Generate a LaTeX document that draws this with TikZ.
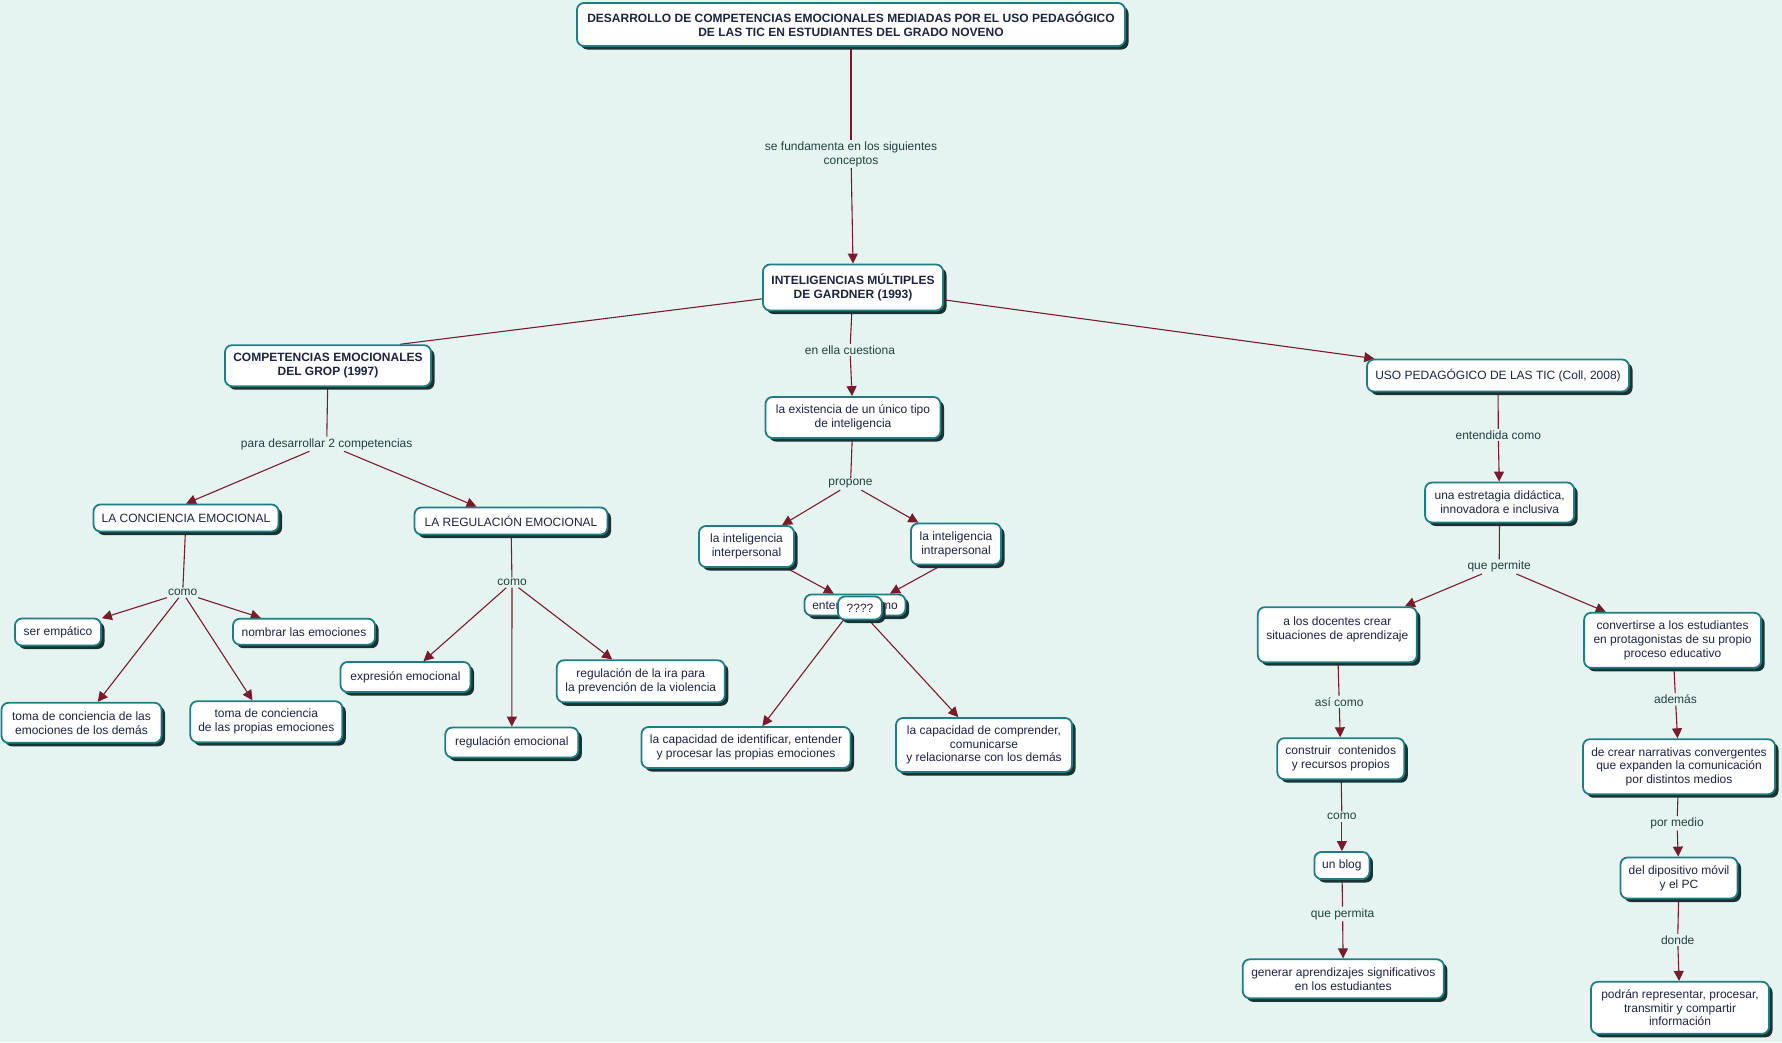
\documentclass[tikz,border=0pt]{standalone}
\usepackage{fontspec}
\setmainfont{Liberation Sans}
\usetikzlibrary{arrows.meta,shadows,calc}
\definecolor{bgc}{HTML}{E5F4F1}
\definecolor{bord}{HTML}{1F7E85}
\definecolor{shad}{HTML}{1B3232}
\definecolor{txt}{HTML}{1C2440}
\definecolor{labc}{HTML}{24413F}
\definecolor{linkc}{HTML}{7A1B2B}
\pgfdeclarelayer{back}
\pgfdeclarelayer{bg}
\pgfsetlayers{back,bg,main}
\begin{document}
\begin{tikzpicture}[x=1pt,y=-1pt,
  concept/.style={draw=bord, line width=1.8pt, fill=white, rounded corners=7pt, align=center, text=txt, inner sep=2pt,
    font=\fontsize{12}{13.8}\selectfont,
    drop shadow={shadow xshift=3.5pt, shadow yshift=-3.5pt, fill=shad, opacity=1}},
  bconcept/.style={concept, font=\fontsize{12}{13.8}\selectfont\bfseries},
  lab/.style={text=labc, align=center, inner sep=1.5pt, font=\fontsize{12}{13.8}\selectfont},
  link/.style={draw=linkc, line width=1.1pt},
  arr/.style={link, -{Triangle[length=10pt,width=10pt]}},
]
\useasboundingbox (0,0) rectangle (1782,1042);
\begin{pgfonlayer}{back}
\fill[bgc] (0,0) rectangle (1782,1042);
\end{pgfonlayer}

% top
\node[bconcept, minimum width=548pt, minimum height=43pt] (title) at (851,24.5)
  {DESARROLLO DE COMPETENCIAS EMOCIONALES MEDIADAS POR EL USO PEDAGÓGICO\\DE LAS TIC EN ESTUDIANTES DEL GRADO NOVENO};
\node[lab] (lfund) at (851,154) {se fundamenta en los siguientes\\conceptos};
\node[bconcept, minimum width=180pt, minimum height=46pt] (int) at (853,287.5) {INTELIGENCIAS MÚLTIPLES\\DE GARDNER (1993)};

% centre
\node[lab] (lcue) at (850,350) {en ella cuestiona};
\node[concept, minimum width=175pt, minimum height=41pt] (exist) at (853,417.5) {la existencia de un único tipo\\de inteligencia};
\node[lab] (lprop) at (850.5,484) {propone};
\node[concept, minimum width=95pt, minimum height=41pt] (inter) at (746.5,546.5) {la inteligencia\\interpersonal};
\node[concept, minimum width=90pt, minimum height=41pt] (intra) at (956,544) {la inteligencia\\intrapersonal};
\node[concept, minimum width=101pt, minimum height=21pt] (ent) at (855,605) {entendido como};
\node[concept, minimum width=44pt, minimum height=23pt] (q) at (860,608) {????};
\node[concept, minimum width=209pt, minimum height=41pt] (capid) at (746,747.5) {la capacidad de identificar, entender\\y procesar las propias emociones};
\node[concept, minimum width=176pt, minimum height=54pt] (capcom) at (984,745) {la capacidad de comprender,\\comunicarse\\y relacionarse con los demás};

% left
\node[bconcept, minimum width=206pt, minimum height=41pt] (comp) at (328,365.7) {COMPETENCIAS EMOCIONALES\\DEL GROP (1997)};
\node[lab] (lpara) at (326.7,444) {para desarrollar 2 competencias};
\node[concept, minimum width=185pt, minimum height=27pt] (conc) at (186,518) {LA CONCIENCIA EMOCIONAL};
\node[concept, minimum width=193pt, minimum height=27pt] (reg) at (511,521) {LA REGULACIÓN EMOCIONAL};
\node[lab] (lcomo1) at (182.7,592.7) {como};
\node[concept, minimum width=86pt, minimum height=27pt] (emp) at (58,632) {ser empático};
\node[concept, minimum width=142pt, minimum height=26pt] (nomb) at (304,631.7) {nombrar las emociones};
\node[concept, minimum width=160pt, minimum height=40pt] (tdem) at (81.5,722.8) {toma de conciencia de las\\emociones de los demás};
\node[concept, minimum width=152pt, minimum height=41pt] (tpro) at (266.3,721.7) {toma de conciencia\\de las propias emociones};
\node[lab] (lcomo2) at (512,582.7) {como};
\node[concept, minimum width=130pt, minimum height=30pt] (expr) at (405.5,677) {expresión emocional};
\node[concept, minimum width=133pt, minimum height=30pt] (regem) at (511.8,742.5) {regulación emocional};
\node[concept, minimum width=168pt, minimum height=42pt] (ira) at (640.8,681.3) {regulación de la ira para\\la prevención de la violencia};

% right
\node[concept, minimum width=262pt, minimum height=32pt] (uso) at (1498,375.5) {USO PEDAGÓGICO DE LAS TIC (Coll, 2008)};
\node[lab] (lent) at (1498.3,435) {entendida como};
\node[concept, minimum width=149pt, minimum height=40pt] (estr) at (1499.6,502.5) {una estretagia didáctica,\\innovadora e inclusiva};
\node[lab] (lqp) at (1499.2,566.7) {que permite};
\node[concept, minimum width=159pt, minimum height=55pt] (doc) at (1337.3,634.7) {a los docentes crear\\situaciones de aprendizaje\\\mbox{}};
\node[concept, minimum width=177pt, minimum height=55pt] (conv) at (1672.6,640.3) {convertirse a los estudiantes\\en protagonistas de su propio\\proceso educativo};
\node[lab] (lasi) at (1339.2,701.7) {así como};
\node[concept, minimum width=127pt, minimum height=41pt] (cons) at (1340.8,758.7) {construir\ \ contenidos\\y recursos propios};
\node[lab] (ladem) at (1675.5,699.3) {además};
\node[concept, minimum width=192pt, minimum height=55pt] (narr) at (1679,766.7) {de crear narrativas convergentes\\que expanden la comunicación\\por distintos medios};
\node[lab] (lcomo3) at (1341.9,816.7) {como};
\node[concept, minimum width=55pt, minimum height=27pt] (blog) at (1341.9,865.5) {un blog};
\node[lab] (lqpa) at (1342.6,914) {que permita};
\node[concept, minimum width=201pt, minimum height=39pt] (gen) at (1343.3,978.8) {generar aprendizajes significativos\\en los estudiantes};
\node[lab] (lpm) at (1677,823.3) {por medio};
\node[concept, minimum width=117pt, minimum height=41pt] (disp) at (1679,878) {del dipositivo móvil\\y el PC};
\node[lab] (ldonde) at (1677.7,940) {donde};
\node[concept, minimum width=178pt, minimum height=52pt] (pod) at (1680,1007.8) {podrán representar, procesar,\\transmitir y compartir\\información};

\begin{pgfonlayer}{bg}
\draw[link] (title.south) -- (lfund);
\draw[arr] (lfund) -- (int.north);
\draw[link] (int) -- ($(comp.north west)!0.846!(comp.north east)$);
\draw[arr] (int) -- (uso);
\draw[link] (int) -- (lcue);
\draw[arr] (lcue) -- (exist);
\draw[link] (exist) -- (lprop);
\draw[arr] (lprop) -- (inter);
\draw[arr] (lprop) -- (intra);
\draw[arr] (inter) -- (ent);
\draw[arr] ($(intra.south west)!0.34!(intra.south east)$) -- ($(ent.north west)!0.84!(ent.north east)$);
\draw[arr] (ent) -- (capid);
\draw[arr] (ent) -- (capcom);
% left
\draw[link] (comp) -- (lpara);
\draw[arr] (lpara) -- (conc.north);
\draw[arr] (lpara) -- (reg);
\draw[link] (conc) -- (lcomo1);
\draw[arr] (lcomo1) -- (emp);
\draw[arr] (lcomo1) -- (nomb);
\draw[arr] (lcomo1) -- (tdem);
\draw[arr] (lcomo1) -- (tpro);
\draw[link] (reg) -- (lcomo2);
\draw[arr] (lcomo2) -- (expr);
\draw[arr] (lcomo2) -- (regem);
\draw[arr] (lcomo2) -- (ira);
% right
\draw[link] (uso) -- (lent);
\draw[arr] (lent) -- (estr);
\draw[link] (estr) -- (lqp);
\draw[arr] (lqp) -- (doc);
\draw[arr] (lqp) -- (conv);
\draw[link] (doc) -- (lasi);
\draw[arr] (lasi) -- (cons);
\draw[link] (cons) -- (lcomo3);
\draw[arr] (lcomo3) -- (blog);
\draw[link] (blog) -- (lqpa);
\draw[arr] (lqpa) -- (gen);
\draw[link] (conv) -- (ladem);
\draw[arr] (ladem) -- (narr);
\draw[link] (narr) -- (lpm);
\draw[arr] (lpm) -- (disp);
\draw[link] (disp) -- (ldonde);
\draw[arr] (ldonde) -- (pod);
\end{pgfonlayer}
\end{tikzpicture}
\end{document}
